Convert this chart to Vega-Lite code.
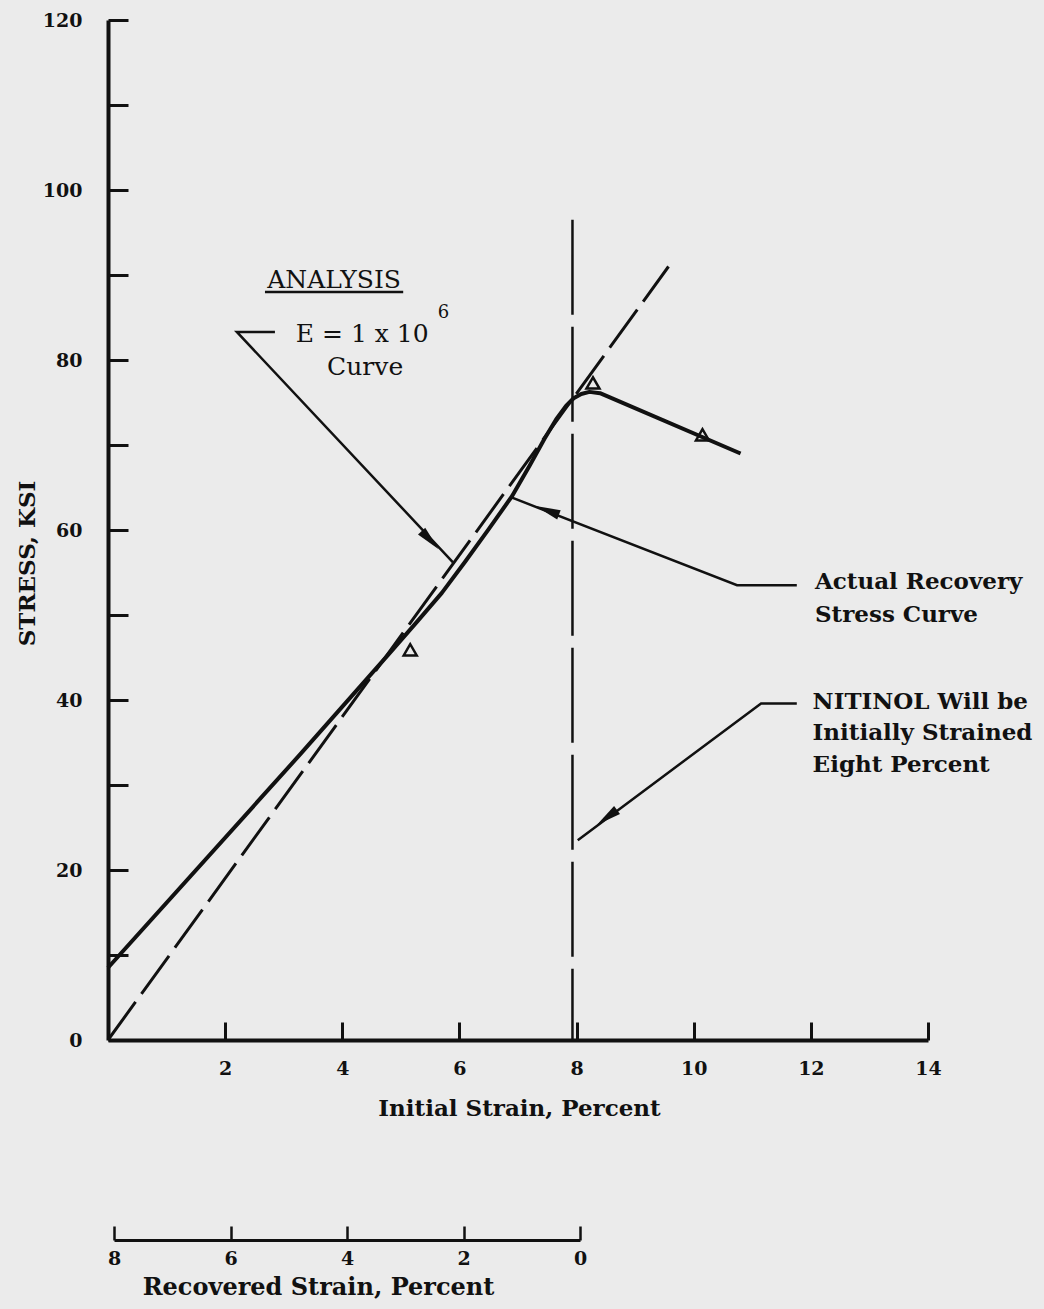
{
  "$schema": "https://vega.github.io/schema/vega-lite/v6.json",
  "width": 820,
  "height": 1020,
  "autosize": {"type": "none"},
  "padding": {"left": 108, "top": 20, "right": 116, "bottom": 269},
  "background": "#ebebeb",
  "config": {
    "view": {"stroke": null},
    "font": "DejaVu Serif",
    "axis": {"grid": false, "domainColor": "#111", "tickColor": "#111", "labelColor": "#111", "titleColor": "#111", "labelFont": "DejaVu Serif", "titleFont": "DejaVu Serif", "labelFontWeight": "bold", "titleFontWeight": "bold", "labelOverlap": false, "labelBound": false, "labelFlush": false}
  },
  "datasets": {
    "curve": [
      {"strain": 0, "stress": 8.5},
      {"strain": 3.28, "stress": 33.6},
      {"strain": 4.82, "stress": 45.6},
      {"strain": 5.3, "stress": 49.4},
      {"strain": 5.7, "stress": 52.6},
      {"strain": 6.1, "stress": 56.3},
      {"strain": 6.5, "stress": 60.1},
      {"strain": 6.9, "stress": 64.0},
      {"strain": 7.2, "stress": 67.6},
      {"strain": 7.45, "stress": 70.7},
      {"strain": 7.65, "stress": 73.0},
      {"strain": 7.82, "stress": 74.6},
      {"strain": 7.95, "stress": 75.5},
      {"strain": 8.08, "stress": 76.0},
      {"strain": 8.22, "stress": 76.25},
      {"strain": 8.4, "stress": 76.1},
      {"strain": 10.8, "stress": 69.0}
    ],
    "analysis": [
      {"strain": 0, "stress": 0},
      {"strain": 9.57, "stress": 91.0}
    ],
    "points": [
      {"strain": 5.16, "stress": 45.9},
      {"strain": 8.28, "stress": 77.3},
      {"strain": 10.15, "stress": 71.2}
    ],
    "refline": [
      {"strain": 7.93, "stress": 0, "stress2": 96.5}
    ],
    "leaders": [
      {"g": "E", "i": 0, "strain": 2.85, "stress": 83.3},
      {"g": "E", "i": 1, "strain": 2.2, "stress": 83.3},
      {"g": "E", "i": 2, "strain": 5.89, "stress": 56.2},
      {"g": "A", "i": 0, "strain": 11.76, "stress": 53.5},
      {"g": "A", "i": 1, "strain": 10.74, "stress": 53.5},
      {"g": "A", "i": 2, "strain": 6.9, "stress": 63.8},
      {"g": "N", "i": 0, "strain": 11.76, "stress": 39.6},
      {"g": "N", "i": 1, "strain": 11.15, "stress": 39.6},
      {"g": "N", "i": 2, "strain": 8.02, "stress": 23.5}
    ],
    "arrows": [
      {"g": "E", "strain": 5.5, "stress": 58.8},
      {"g": "A", "strain": 7.5, "stress": 62.3},
      {"g": "N", "strain": 8.52, "stress": 26.2}
    ],
    "underline": [
      {"strain": 2.68, "strain2": 5.04, "stress": 88.0}
    ],
    "analysisText": [
      {"t": "ANALYSIS", "strain": 3.86, "stress": 89.4},
      {"t": "E = 1 x 10", "strain": 4.34, "stress": 83.1},
      {"t": "Curve", "strain": 4.39, "stress": 79.2}
    ],
    "exponent": [
      {"t": "6", "strain": 5.63, "stress": 85.5}
    ],
    "notes": [
      {"t": "Actual Recovery", "strain": 12.07, "stress": 53.9},
      {"t": "Stress Curve", "strain": 12.07, "stress": 50.0},
      {"t": "NITINOL Will be", "strain": 12.03, "stress": 39.8},
      {"t": "Initially Strained", "strain": 12.03, "stress": 36.1},
      {"t": "Eight Percent", "strain": 12.03, "stress": 32.3}
    ],
    "recovered": [
      {"recovered": 8},
      {"recovered": 0}
    ]
  },
  "layer": [
    {
      "layer": [
        {
          "data": {"name": "curve"},
          "mark": {"type": "line", "interpolate": "linear", "color": "#111", "strokeWidth": 4, "strokeJoin": "round"},
          "encoding": {
            "x": {
              "field": "strain", "type": "quantitative",
              "scale": {"domain": [0, 14], "nice": false, "zero": false},
              "axis": {
                "orient": "bottom",
                "values": [2, 4, 6, 8, 10, 12, 14],
                "format": "d",
                "domainWidth": 4, "tickWidth": 3, "tickSize": -18,
                "labelPadding": 46, "labelBaseline": "middle", "labelFontSize": 19,
                "title": "Initial Strain, Percent", "titleFontSize": 23,
                "titleX": 411, "titleY": 68, "titleAlign": "center", "titleBaseline": "middle"
              }
            },
            "y": {
              "field": "stress", "type": "quantitative",
              "scale": {"domain": [0, 120], "nice": false, "zero": false},
              "axis": {
                "values": [0, 10, 20, 30, 40, 50, 60, 70, 80, 90, 100, 110, 120],
                "labelExpr": "datum.value % 20 === 0 ? datum.label : ''",
                "domainWidth": 4, "tickWidth": 3, "tickSize": -20,
                "labelPadding": 46, "labelAlign": "right", "labelBaseline": "middle", "labelFontSize": 19,
                "title": "STRESS, KSI", "titleFontSize": 23,
                "titleX": -81, "titleY": 543, "titleAngle": -90, "titleAlign": "center", "titleBaseline": "middle"
              }
            }
          }
        },
        {
          "data": {"name": "analysis"},
          "mark": {"type": "line", "color": "#111", "strokeWidth": 3, "strokeDash": [47, 10]},
          "encoding": {
            "x": {"field": "strain", "type": "quantitative"},
            "y": {"field": "stress", "type": "quantitative"}
          }
        },
        {
          "data": {"name": "refline"},
          "mark": {"type": "rule", "color": "#111", "strokeWidth": 2.5, "strokeDash": [95, 12]},
          "encoding": {
            "x": {"field": "strain", "type": "quantitative"},
            "y": {"field": "stress2", "type": "quantitative"},
            "y2": {"field": "stress"}
          }
        },
        {
          "data": {"name": "points"},
          "mark": {"type": "point", "shape": "triangle-up", "filled": false, "color": "#111", "strokeWidth": 2.5, "size": 170, "opacity": 1},
          "encoding": {
            "x": {"field": "strain", "type": "quantitative"},
            "y": {"field": "stress", "type": "quantitative"}
          }
        },
        {
          "data": {"name": "leaders"},
          "mark": {"type": "line", "color": "#111", "strokeWidth": 2.5},
          "encoding": {
            "x": {"field": "strain", "type": "quantitative"},
            "y": {"field": "stress", "type": "quantitative"},
            "detail": {"field": "g"},
            "order": {"field": "i", "type": "quantitative"}
          }
        },
        {
          "data": {"name": "arrows"},
          "transform": [{"filter": "datum.g === 'E'"}],
          "mark": {"type": "point", "shape": "M1,0L-1,-0.4L-1,0.4Z", "filled": true, "color": "#111", "size": 620, "angle": 46.8, "opacity": 1},
          "encoding": {
            "x": {"field": "strain", "type": "quantitative"},
            "y": {"field": "stress", "type": "quantitative"}
          }
        },
        {
          "data": {"name": "arrows"},
          "transform": [{"filter": "datum.g === 'A'"}],
          "mark": {"type": "point", "shape": "M1,0L-1,-0.4L-1,0.4Z", "filled": true, "color": "#111", "size": 620, "angle": 200.7, "opacity": 1},
          "encoding": {
            "x": {"field": "strain", "type": "quantitative"},
            "y": {"field": "stress", "type": "quantitative"}
          }
        },
        {
          "data": {"name": "arrows"},
          "transform": [{"filter": "datum.g === 'N'"}],
          "mark": {"type": "point", "shape": "M1,0L-1,-0.4L-1,0.4Z", "filled": true, "color": "#111", "size": 620, "angle": 143.6, "opacity": 1},
          "encoding": {
            "x": {"field": "strain", "type": "quantitative"},
            "y": {"field": "stress", "type": "quantitative"}
          }
        },
        {
          "data": {"name": "underline"},
          "mark": {"type": "rule", "color": "#111", "strokeWidth": 2.5},
          "encoding": {
            "x": {"field": "strain", "type": "quantitative"},
            "x2": {"field": "strain2"},
            "y": {"field": "stress", "type": "quantitative"}
          }
        },
        {
          "data": {"name": "analysisText"},
          "mark": {"type": "text", "align": "center", "baseline": "middle", "fontSize": 25, "color": "#111", "font": "DejaVu Serif"},
          "encoding": {
            "x": {"field": "strain", "type": "quantitative"},
            "y": {"field": "stress", "type": "quantitative"},
            "text": {"field": "t"}
          }
        },
        {
          "data": {"name": "exponent"},
          "mark": {"type": "text", "align": "left", "baseline": "middle", "fontSize": 18, "color": "#111", "font": "DejaVu Serif"},
          "encoding": {
            "x": {"field": "strain", "type": "quantitative"},
            "y": {"field": "stress", "type": "quantitative"},
            "text": {"field": "t"}
          }
        },
        {
          "data": {"name": "notes"},
          "mark": {"type": "text", "align": "left", "baseline": "middle", "fontSize": 23, "fontWeight": "bold", "color": "#111", "font": "DejaVu Serif"},
          "encoding": {
            "x": {"field": "strain", "type": "quantitative"},
            "y": {"field": "stress", "type": "quantitative"},
            "text": {"field": "t"}
          }
        }
      ]
    },
    {
      "data": {"name": "recovered"},
      "mark": {"type": "point", "opacity": 0},
      "encoding": {
        "x": {
          "field": "recovered", "type": "quantitative",
          "scale": {"domain": [0, 8], "reverse": true, "range": [6, 472], "nice": false, "zero": false},
          "axis": {
            "orient": "bottom", "offset": 200,
            "values": [0, 2, 4, 6, 8],
            "format": "d",
            "domainWidth": 3, "tickWidth": 2.5, "tickSize": -14,
            "labelPadding": 32, "labelBaseline": "middle", "labelFontSize": 19,
            "title": "Recovered Strain, Percent", "titleFontSize": 24,
            "titleX": 210, "titleY": 47, "titleAlign": "center", "titleBaseline": "middle"
          }
        }
      }
    }
  ],
  "resolve": {"scale": {"x": "independent"}, "axis": {"x": "independent"}}
}
